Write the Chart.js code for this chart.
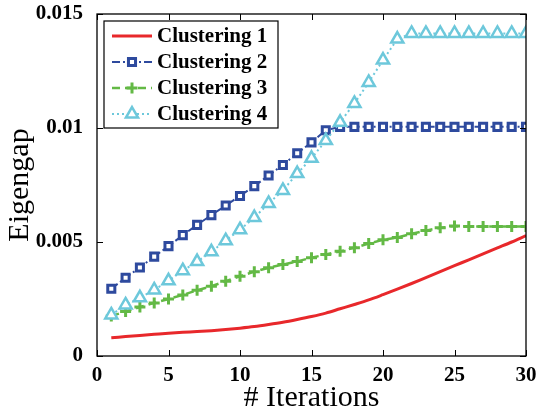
<!DOCTYPE html>
<html>
<head>
<meta charset="utf-8">
<script src="https://cdn.jsdelivr.net/npm/chart.js@4.4.1/dist/chart.umd.min.js"></script>
<style>
  html, body { margin: 0; padding: 0; background: #fff; }
  canvas { display: block; }
</style>
</head>
<body>
<canvas id="myChart" width="538" height="410"></canvas>
<script>
const iterations = [1, 2, 3, 4, 5, 6, 7, 8, 9, 10, 11, 12, 13, 14, 15, 16, 17, 18, 19, 20, 21, 22, 23, 24, 25, 26, 27, 28, 29, 30];

const clustering1 = [0.00080, 0.00085, 0.00090, 0.00095, 0.00100, 0.00104, 0.00107, 0.00111, 0.00116, 0.00122,
	0.00129, 0.00138, 0.00148, 0.00160, 0.00173, 0.00188, 0.00207, 0.00226, 0.00246, 0.00269,
	0.00293, 0.00318, 0.00344, 0.00370, 0.00396, 0.00422, 0.00448, 0.00474, 0.00500, 0.00528];
const clustering2 = [0.00295, 0.00343, 0.00388, 0.00436, 0.00482, 0.00530, 0.00575, 0.00618, 0.00660, 0.00702,
	0.00745, 0.00792, 0.00838, 0.00889, 0.00937, 0.00990, 0.01005, 0.01005, 0.01005, 0.01005,
	0.01005, 0.01005, 0.01005, 0.01005, 0.01005, 0.01005, 0.01005, 0.01005, 0.01005, 0.01005];
const clustering3 = [0.00175, 0.00195, 0.00215, 0.00233, 0.00250, 0.00268, 0.00288, 0.00306, 0.00328, 0.00350,
	0.00370, 0.00387, 0.00401, 0.00415, 0.00431, 0.00445, 0.00459, 0.00475, 0.00493, 0.00510,
	0.00520, 0.00536, 0.00550, 0.00562, 0.00570, 0.00568, 0.00568, 0.00568, 0.00568, 0.00568];
const clustering4 = [0.00180, 0.00224, 0.00255, 0.00290, 0.00330, 0.00374, 0.00414, 0.00457, 0.00506, 0.00554,
	0.00607, 0.00669, 0.00726, 0.00800, 0.00867, 0.00945, 0.01025, 0.01108, 0.01200, 0.01298,
	0.01390, 0.01415, 0.01415, 0.01415, 0.01415, 0.01415, 0.01415, 0.01415, 0.01415, 0.01415];

const seriesNames = ['Clustering 1', 'Clustering 2', 'Clustering 3', 'Clustering 4'];
const xTicks = [0, 5, 10, 15, 20, 25, 30];
const yTicks = [0, 0.005, 0.01, 0.015];

const RED = '#e8282b';
const BLUE = '#2e4a9e';
const GREEN = '#63b945';
const CYAN = '#6dc8db';
const SERIF = "'Liberation Serif', 'Times New Roman', serif";

const toPoints = function (values) {
	return values.map((v, i) => ({ x: iterations[i], y: v }));
};

// frame with inward ticks on all 4 sides + legend inside the plot
const framePlugin = {
	id: 'frame',
	afterDraw(chart) {
		const ctx = chart.ctx;
		const a = chart.chartArea;
		const xs = chart.scales.x;
		const ys = chart.scales.y;
		ctx.save();
		ctx.strokeStyle = '#000';
		ctx.lineWidth = 1.3;
		ctx.setLineDash([]);
		ctx.strokeRect(a.left, a.top, a.right - a.left, a.bottom - a.top);
		ctx.lineWidth = 1;
		ctx.beginPath();
		for (const t of xTicks) {
			const px = Math.round(xs.getPixelForValue(t)) + 0.5;
			ctx.moveTo(px, a.bottom); ctx.lineTo(px, a.bottom - 6);
			ctx.moveTo(px, a.top); ctx.lineTo(px, a.top + 6);
		}
		for (const t of yTicks) {
			const py = Math.round(ys.getPixelForValue(t)) + 0.5;
			ctx.moveTo(a.left, py); ctx.lineTo(a.left + 6, py);
			ctx.moveTo(a.right, py); ctx.lineTo(a.right - 6, py);
		}
		ctx.stroke();

		// legend
		const lx = a.left + 7, ly = a.top + 7, lw = 174, lh = 107;
		ctx.fillStyle = '#fff';
		ctx.fillRect(lx, ly, lw, lh);
		ctx.lineWidth = 1.2;
		ctx.strokeRect(lx, ly, lw, lh);
		ctx.font = 'bold 21px ' + SERIF;
		ctx.textBaseline = 'middle';
		chart.data.datasets.forEach((ds, i) => {
			const y = ly + 15 + i * 26;
			ctx.strokeStyle = ds.borderColor;
			ctx.lineWidth = ds.borderWidth;
			ctx.setLineDash(ds.borderDash || []);
			ctx.beginPath();
			ctx.moveTo(lx + 8, y); ctx.lineTo(lx + 48, y);
			ctx.stroke();
			ctx.setLineDash([]);
			if (ds.pointRadius > 0) {
				ctx.fillStyle = ds.pointBackgroundColor;
				ctx.strokeStyle = ds.pointBorderColor;
				ctx.lineWidth = ds.pointBorderWidth;
				Chart.helpers.drawPoint(ctx, {
					pointStyle: ds.pointStyle, radius: ds.pointRadius, rotation: 0, borderWidth: ds.pointBorderWidth
				}, lx + 28, y);
			}
			ctx.fillStyle = '#000';
			ctx.fillText(ds.label, lx + 53, y + 1);
		});
		ctx.restore();
	}
};

const createChart = function () {
	const data = {
		datasets: [
			{
				label: seriesNames[0],
				data: toPoints(clustering1),
				borderColor: RED,
				borderWidth: 3,
				pointRadius: 0,
				cubicInterpolationMode: 'monotone',
				order: 4
			},
			{
				label: seriesNames[1],
				data: toPoints(clustering2),
				borderColor: BLUE,
				borderWidth: 2,
				borderDash: [8, 3, 2, 3],
				pointStyle: 'rect',
				pointRadius: 5,
				pointBorderWidth: 3,
				pointBackgroundColor: '#fff',
				pointBorderColor: BLUE,
				order: 3
			},
			{
				label: seriesNames[2],
				data: toPoints(clustering3),
				borderColor: GREEN,
				borderWidth: 2.5,
				borderDash: [8, 5],
				pointStyle: 'cross',
				pointRadius: 5.5,
				pointBorderWidth: 3,
				pointBackgroundColor: GREEN,
				pointBorderColor: GREEN,
				order: 2
			},
			{
				label: seriesNames[3],
				data: toPoints(clustering4),
				borderColor: CYAN,
				borderWidth: 2,
				borderDash: [2, 3],
				pointStyle: 'triangle',
				pointRadius: 7,
				pointBorderWidth: 2.5,
				pointBackgroundColor: '#fff',
				pointBorderColor: CYAN,
				order: 1
			}
		]
	};

	const config = {
		type: 'line',
		data: data,
		options: {
			responsive: false,
			animation: false,
			devicePixelRatio: 1,
			layout: { padding: { left: 0, top: 14, right: 12, bottom: 0 } },
			plugins: {
				legend: { display: false },
				tooltip: { enabled: false }
			},
			scales: {
				x: {
					type: 'linear',
					min: 0,
					max: 30,
					afterBuildTicks: (s) => { s.ticks = xTicks.map(v => ({ value: v })); },
					afterFit: (s) => { s.height = 54; s.paddingLeft = 0; s.paddingRight = 0; },
					grid: { display: false },
					border: { display: false },
					ticks: {
						color: '#000',
						padding: -1,
						font: { family: SERIF, size: 21, weight: 'bold' },
						maxRotation: 0
					},
					title: {
						display: true,
						text: '# Iterations',
						color: '#000',
						font: { family: SERIF, size: 30, lineHeight: 1 },
						padding: { top: 0, bottom: -3 }
					}
				},
				y: {
					min: 0,
					max: 0.015,
					afterBuildTicks: (s) => { s.ticks = yTicks.map(v => ({ value: v })); },
					afterFit: (s) => { s.width = 97; s.paddingTop = 0; s.paddingBottom = 0; },
					grid: { display: false },
					border: { display: false },
					ticks: {
						color: '#000',
						padding: 6,
						font: { family: SERIF, size: 21, weight: 'bold' },
						callback: (v) => (v === 0 ? '0' : String(+v.toFixed(3)))
					},
					title: {
						display: true,
						text: 'Eigengap',
						color: '#000',
						font: { family: SERIF, size: 30, lineHeight: 1 },
						padding: { top: 5, bottom: 0 }
					}
				}
			}
		},
		plugins: [framePlugin]
	};

	const ctx = document.getElementById('myChart');
	const myChart = new Chart(ctx, config);
};

const init = function () {
	createChart();
};
document.addEventListener('DOMContentLoaded', init);
</script>
</body>
</html>
